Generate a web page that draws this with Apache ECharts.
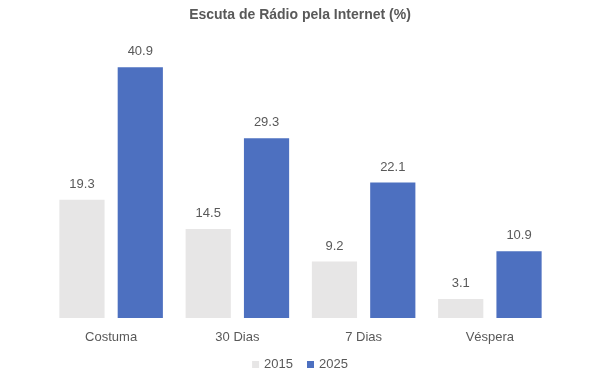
<!DOCTYPE html>
<html><head><meta charset="utf-8">
<script src="https://cdn.jsdelivr.net/npm/echarts@6/dist/echarts.min.js"></script>
<style>html,body{margin:0;padding:0;background:#fff}#c{width:600px;height:372px}</style>
</head><body><div id="c"></div>
<script>
const categories = ['Costuma', '30 Dias', '7 Dias', 'Véspera'];
const values2015 = [19.3, 14.5, 9.2, 3.1];
const values2025 = [40.9, 29.3, 22.1, 10.9];
const seriesNames = ['2015', '2025'];

const chart = echarts.init(document.getElementById('c'));
const font = 'Liberation Sans';
const lbl = {show: true, position: 'top', distance: 9, color: '#595959', fontSize: 13, fontFamily: font};
chart.setOption({
  animation: false,
  title: {text: 'Escuta de Rádio pela Internet (%)', left: 'center', top: 3,
    textStyle: {color: '#595959', fontSize: 14, fontWeight: 'bold', fontFamily: font}},
  legend: {top: 358, itemWidth: 7, itemHeight: 7, itemGap: 14, icon: 'rect', padding: 0,
    textStyle: {color: '#595959', fontSize: 13, fontFamily: font}, data: seriesNames},
  grid: {left: 48, right: 47, top: 42, bottom: 54},
  xAxis: {type: 'category', data: categories, axisLine: {show: false}, axisTick: {show: false},
    axisLabel: {color: '#595959', fontSize: 13, fontFamily: font, margin: 13}},
  yAxis: {type: 'value', min: 0, max: 45, show: false, splitLine: {show: false}},
  series: [
    {name: seriesNames[0], type: 'bar', data: values2015, barGap: '29%', barCategoryGap: '18%',
     itemStyle: {color: '#e7e6e6'}, label: lbl},
    {name: seriesNames[1], type: 'bar', data: values2025,
     itemStyle: {color: '#4d70c0'}, label: lbl}
  ]
});
</script></body></html>
